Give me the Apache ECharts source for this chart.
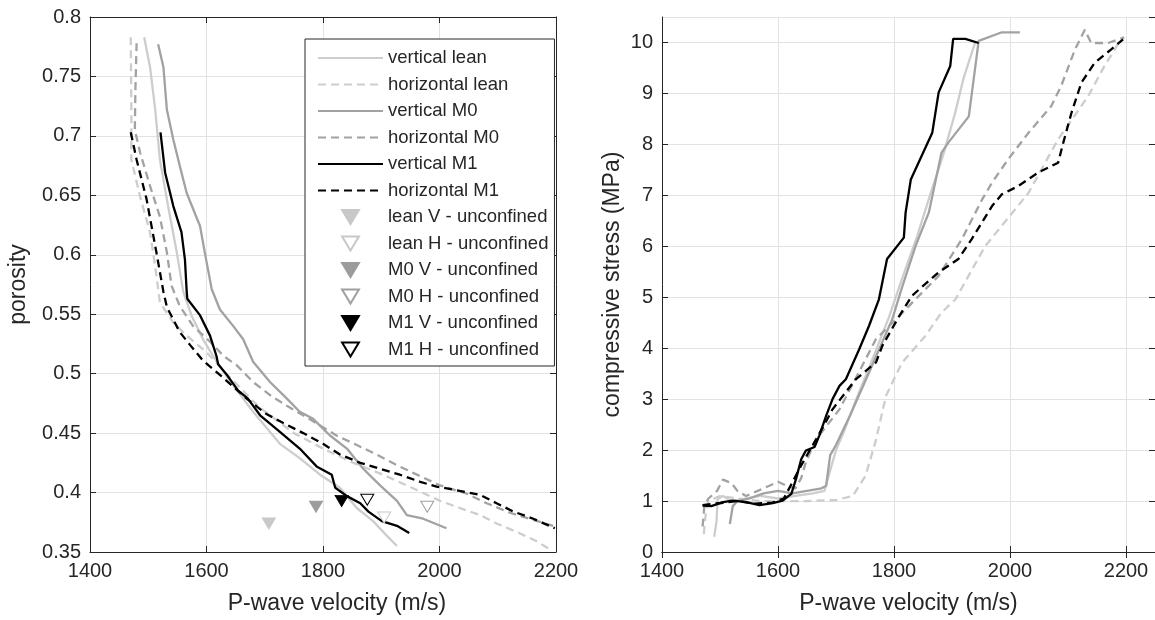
<!DOCTYPE html>
<html lang="en">
<head>
<meta charset="UTF-8">
<title>P-wave velocity vs porosity and stress</title>
<script src="https://cdn.jsdelivr.net/npm/echarts@6/dist/echarts.min.js"></script>
<style>
  html, body { margin: 0; padding: 0; background: #fff; }
  #chart { width: 1155px; height: 620px; }
</style>
</head>
<body>
<div id="chart"></div>
<script>
// left panel: [P-wave velocity (m/s), porosity]
var vertLeanPor = [[1493,0.783],[1503,0.758],[1512,0.722],[1520,0.680],[1534,0.641],[1549,0.602],[1560,0.569],[1575,0.548],[1595,0.528],[1615,0.512],[1640,0.494],[1680,0.468],[1726,0.441],[1760,0.429],[1795,0.415],[1829,0.404],[1858,0.387],[1886,0.376],[1909,0.364],[1927,0.355]];
var horLeanPor = [[1470,0.783],[1471,0.720],[1471,0.680],[1486,0.649],[1503,0.619],[1512,0.590],[1520,0.560],[1543,0.543],[1566,0.532],[1600,0.518],[1640,0.497],[1690,0.472],[1750,0.450],[1800,0.437],[1852,0.425],[1903,0.415],[1944,0.406],[2001,0.393],[2035,0.387],[2070,0.381],[2098,0.374],[2132,0.367],[2167,0.359],[2190,0.352]];
var vertM0Por = [[1517,0.777],[1526,0.758],[1532,0.722],[1543,0.697],[1554,0.675],[1566,0.652],[1589,0.624],[1597,0.602],[1609,0.571],[1623,0.554],[1646,0.540],[1663,0.529],[1680,0.510],[1709,0.493],[1738,0.479],[1760,0.468],[1783,0.462],[1812,0.448],[1841,0.437],[1869,0.420],[1898,0.406],[1927,0.393],[1944,0.381],[1972,0.378],[2012,0.370]];
var horM0Por = [[1480,0.778],[1478,0.740],[1477,0.705],[1486,0.686],[1503,0.658],[1520,0.632],[1532,0.602],[1540,0.574],[1554,0.557],[1577,0.540],[1606,0.527],[1629,0.515],[1652,0.507],[1680,0.493],[1709,0.482],[1738,0.473],[1783,0.460],[1823,0.448],[1858,0.440],[1892,0.432],[1927,0.423],[1966,0.414],[2001,0.406],[2047,0.399],[2081,0.391],[2121,0.383],[2161,0.377],[2195,0.372]];
var vertM1Por = [[1521,0.703],[1529,0.669],[1543,0.641],[1557,0.619],[1563,0.596],[1566,0.569],[1567,0.563],[1589,0.549],[1606,0.532],[1617,0.515],[1620,0.508],[1635,0.499],[1654,0.486],[1671,0.479],[1692,0.465],[1726,0.451],[1760,0.437],[1789,0.422],[1815,0.415],[1821,0.404],[1841,0.397],[1864,0.391],[1878,0.384],[1901,0.376],[1927,0.372],[1948,0.366]];
var horM1Por = [[1470,0.703],[1480,0.680],[1497,0.647],[1514,0.602],[1526,0.569],[1532,0.556],[1554,0.535],[1572,0.524],[1594,0.511],[1623,0.499],[1669,0.479],[1703,0.466],[1738,0.457],[1766,0.450],[1800,0.441],[1829,0.432],[1864,0.425],[1898,0.420],[1932,0.415],[1967,0.409],[1995,0.405],[2029,0.402],[2070,0.398],[2098,0.391],[2127,0.384],[2161,0.378],[2198,0.370]];

// unconfined samples: [velocity, porosity]
var leanVUnc = [[1707,0.374]];
var leanHUnc = [[1905,0.379]];
var m0VUnc = [[1788,0.388]];
var m0HUnc = [[1979,0.388]];
var m1VUnc = [[1832,0.393]];
var m1HUnc = [[1876,0.394]];

// right panel: [P-wave velocity (m/s), compressive stress (MPa)]
var vertLeanStr = [[1490,0.30],[1494,0.60],[1496,1.04],[1505,1.10],[1520,1.00],[1545,1.05],[1570,1.10],[1600,1.05],[1630,1.10],[1660,1.15],[1680,1.20],[1690,1.60],[1700,2.00],[1715,2.40],[1735,3.00],[1760,3.70],[1791,4.60],[1815,5.40],[1840,6.20],[1862,7.00],[1885,7.80],[1905,8.60],[1920,9.30],[1940,10.00]];
var horLeanStr = [[1472,0.35],[1476,0.80],[1480,1.00],[1500,1.10],[1530,1.05],[1570,1.00],[1610,1.00],[1650,1.00],[1700,1.02],[1729,1.10],[1751,1.50],[1769,2.20],[1786,3.06],[1814,3.72],[1854,4.24],[1882,4.70],[1906,4.96],[1957,6.00],[2032,7.05],[2083,8.10],[2135,8.95],[2163,9.54],[2191,10.06]];
var vertM0Str = [[1517,0.55],[1522,0.90],[1530,1.00],[1550,1.05],[1575,1.15],[1600,1.20],[1625,1.15],[1650,1.20],[1675,1.25],[1683,1.30],[1690,1.90],[1700,2.10],[1725,2.70],[1760,3.60],[1797,4.57],[1814,5.20],[1837,6.00],[1860,6.66],[1882,7.84],[1894,8.04],[1929,8.55],[1946,10.03],[1986,10.20],[2017,10.20]];
var horM0Str = [[1470,0.50],[1473,0.90],[1480,1.05],[1495,1.20],[1505,1.42],[1520,1.35],[1530,1.20],[1545,1.10],[1565,1.20],[1585,1.30],[1600,1.38],[1615,1.30],[1630,1.25],[1640,1.45],[1648,1.76],[1665,2.20],[1706,2.80],[1745,3.65],[1769,4.18],[1809,4.63],[1837,4.96],[1877,5.42],[1917,6.14],[1952,6.92],[1969,7.25],[1997,7.71],[2032,8.23],[2071,8.75],[2088,9.14],[2112,9.86],[2129,10.25],[2140,9.99],[2169,9.99],[2197,10.10]];
var vertM1Str = [[1470,0.91],[1485,0.90],[1505,0.98],[1522,1.01],[1545,0.98],[1568,0.92],[1591,0.96],[1608,1.01],[1623,1.14],[1631,1.43],[1640,1.82],[1648,1.99],[1663,2.06],[1671,2.28],[1683,2.67],[1694,3.00],[1706,3.26],[1717,3.39],[1740,3.98],[1757,4.44],[1774,4.96],[1788,5.75],[1817,6.17],[1820,6.66],[1829,7.31],[1866,8.23],[1877,9.02],[1897,9.54],[1902,10.07],[1923,10.07],[1946,9.99]];
var horM1Str = [[1470,0.92],[1490,0.95],[1510,0.97],[1530,1.00],[1560,0.95],[1590,0.97],[1610,1.05],[1625,1.37],[1640,1.70],[1660,2.10],[1680,2.50],[1694,2.80],[1734,3.39],[1769,3.72],[1780,4.05],[1809,4.63],[1831,5.03],[1877,5.49],[1911,5.75],[1934,6.14],[1969,6.79],[1986,7.02],[2014,7.18],[2049,7.45],[2083,7.64],[2092,8.04],[2106,8.62],[2123,9.21],[2146,9.60],[2174,9.86],[2195,10.06]];

var legendNames = ['vertical lean', 'horizontal lean', 'vertical M0', 'horizontal M0', 'vertical M1', 'horizontal M1',
  'lean V - unconfined', 'lean H - unconfined', 'M0 V - unconfined', 'M0 H - unconfined', 'M1 V - unconfined', 'M1 H - unconfined'];

var LIGHT = '#cdcdcd', MID = '#a2a2a2', DARK = '#000000', INK = '#262626';
var FONT = '"Liberation Sans", Arial, sans-serif';
var DASH = [8, 5];
var TRI = 'path://M0,0L12,0L6,10Z';

function plain(v) { return String(+v.toFixed(2)); }

function mainAxis(grid, min, max, step, pos, name, gap, hideMax, namePad) {
  return {
    type: 'value', gridIndex: grid, min: min, max: max, interval: step, position: pos,
    name: name, nameLocation: 'middle', nameGap: gap,
    nameTextStyle: { fontFamily: FONT, fontSize: 23, color: INK, padding: namePad || 0 },
    axisLine: { show: true, lineStyle: { color: INK, width: 1 } },
    axisTick: { show: true, inside: true, length: 6, lineStyle: { color: INK } },
    axisLabel: { fontFamily: FONT, fontSize: 20, color: INK, margin: 9, showMaxLabel: !hideMax, formatter: plain },
    splitLine: { show: true, lineStyle: { color: '#e2e2e2', width: 1 } }
  };
}
function boxAxis(grid, min, max, step, pos) {
  return {
    type: 'value', gridIndex: grid, min: min, max: max, interval: step, position: pos,
    axisLine: { show: true, lineStyle: { color: INK, width: 1 } },
    axisTick: { show: true, inside: true, length: 6, lineStyle: { color: INK } },
    axisLabel: { show: false },
    splitLine: { show: false }
  };
}
function curve(name, data, color, dashed, xi) {
  return {
    name: name, type: 'line', data: data, xAxisIndex: xi, yAxisIndex: xi,
    symbol: 'none', smooth: false, silent: true,
    lineStyle: { color: color, width: 2.3, type: dashed ? DASH : 'solid' },
    // transparent so the legend shows only the line sample
    itemStyle: { color: 'rgba(0,0,0,0)' }
  };
}
function marker(name, data, fill, edge) {
  return {
    name: name, type: 'scatter', data: data, xAxisIndex: 0, yAxisIndex: 0,
    symbol: TRI, symbolSize: [13, 11], z: 5,
    itemStyle: { color: fill, borderColor: edge, borderWidth: 1, opacity: 1 }
  };
}

var chart = echarts.init(document.getElementById('chart'));
chart.setOption({
  backgroundColor: '#fff',
  animation: false,
  grid: [
    { left: 90, top: 17, width: 466, height: 537 },
    { left: 662, top: 17, width: 495, height: 536 }
  ],
  xAxis: [
    mainAxis(0, 1400, 2200, 200, 'bottom', 'P-wave velocity (m/s)', 40, false, [0, 0, 0, 28]),
    boxAxis(0, 1400, 2200, 200, 'top'),
    mainAxis(1, 1400, 2250, 200, 'bottom', 'P-wave velocity (m/s)', 40, true),
    boxAxis(1, 1400, 2250, 200, 'top')
  ],
  yAxis: [
    mainAxis(0, 0.35, 0.8, 0.05, 'left', 'porosity', 60, false),
    boxAxis(0, 0.35, 0.8, 0.05, 'right'),
    mainAxis(1, 0, 10.5, 1, 'left', 'compressive stress (MPa)', 38, true),
    boxAxis(1, 0, 10.5, 1, 'right')
  ],
  legend: {
    data: legendNames, orient: 'vertical', left: 305, top: 39,
    itemWidth: 65, itemHeight: 14, itemGap: 7.5,
    padding: [9.5, 6, 7, 12],
    backgroundColor: '#fff', borderColor: INK, borderWidth: 1, borderRadius: 0,
    textStyle: { fontFamily: FONT, fontSize: 18.5, color: INK },
    selectedMode: false
  },
  series: [
    curve('vertical lean', vertLeanPor, LIGHT, false, 0),
    curve('horizontal lean', horLeanPor, LIGHT, true, 0),
    curve('vertical M0', vertM0Por, MID, false, 0),
    curve('horizontal M0', horM0Por, MID, true, 0),
    curve('vertical M1', vertM1Por, DARK, false, 0),
    curve('horizontal M1', horM1Por, DARK, true, 0),
    marker('lean V - unconfined', leanVUnc, '#c8c8c8', '#c8c8c8'),
    marker('lean H - unconfined', leanHUnc, '#ffffff', '#c8c8c8'),
    marker('M0 V - unconfined', m0VUnc, '#9c9c9c', '#9c9c9c'),
    marker('M0 H - unconfined', m0HUnc, '#ffffff', '#a0a0a0'),
    marker('M1 V - unconfined', m1VUnc, '#000000', '#000000'),
    marker('M1 H - unconfined', m1HUnc, '#ffffff', '#000000'),
    curve('vertical lean', vertLeanStr, LIGHT, false, 2),
    curve('horizontal lean', horLeanStr, LIGHT, true, 2),
    curve('vertical M0', vertM0Str, MID, false, 2),
    curve('horizontal M0', horM0Str, MID, true, 2),
    curve('vertical M1', vertM1Str, DARK, false, 2),
    curve('horizontal M1', horM1Str, DARK, true, 2)
  ]
});
</script>
</body>
</html>
